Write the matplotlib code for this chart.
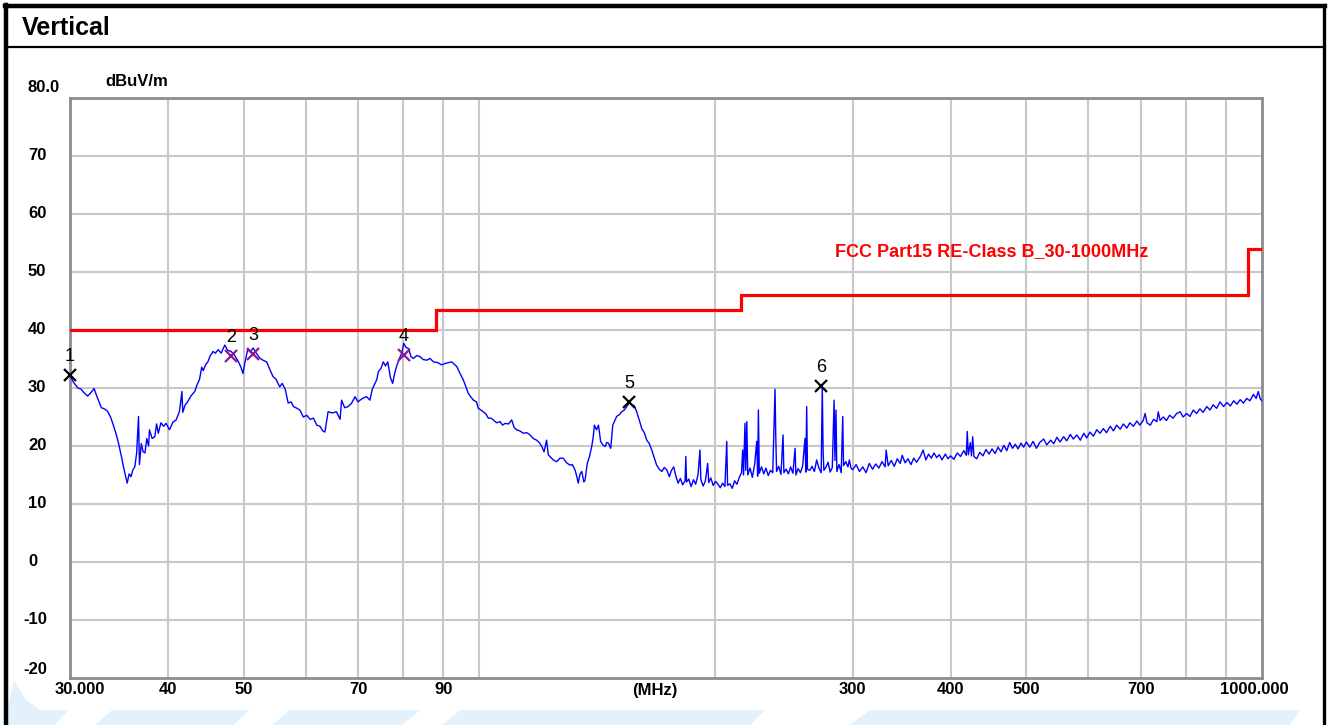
import matplotlib
matplotlib.use("Agg")
import matplotlib.pyplot as plt
from matplotlib.lines import Line2D
from matplotlib.patches import Polygon
from matplotlib.transforms import blended_transform_factory
from matplotlib.ticker import NullLocator
from matplotlib import font_manager

# ---------------- data ----------------
freq_mhz = [
    30.0, 30.3, 30.7, 31.0, 31.2, 31.6, 31.9, 32.2, 32.5, 32.9, 33.2, 33.5, 33.8, 34.1, 34.4,
    34.6, 34.9, 35.1, 35.3, 35.5, 35.7, 35.9, 36.1, 36.3, 36.5, 36.7, 36.8, 37.0, 37.2, 37.4,
    37.6, 37.8, 37.9, 38.2, 38.5, 38.7, 38.9, 39.2, 39.5, 39.8, 40.2, 40.6, 41.0, 41.4, 41.7,
    41.8, 42.1, 42.4, 42.8, 43.3, 43.6, 43.9, 44.2, 44.4, 44.7, 45.0, 45.3, 45.7, 46.0, 46.4,
    46.8, 47.3, 47.7, 48.2, 48.7, 49.2, 49.6, 49.9, 50.2, 50.6, 51.0, 51.4, 51.9, 52.4, 52.9,
    53.5, 54.0, 54.5, 55.0, 55.6, 56.0, 56.5, 57.0, 57.5, 57.9, 58.5, 59.0, 59.6, 60.2, 60.8,
    61.4, 62.0, 62.6, 63.1, 63.5, 64.1, 64.9, 65.7, 66.4, 66.7, 67.3, 68.0, 68.7, 69.4, 70.0,
    70.4, 71.1, 71.8, 72.5, 73.0, 73.6, 74.0, 74.3, 74.9, 75.4, 75.9, 76.4, 77.0, 77.5, 78.0,
    78.4, 79.0, 79.6, 80.1, 80.6, 81.2, 81.8, 82.4, 83.2, 84.0, 84.8, 85.7, 86.5, 87.4, 88.4,
    89.5, 90.8, 92.2, 93.6, 94.5, 95.4, 96.1, 96.8, 97.5, 98.3, 99.2, 99.7, 100.5, 101.2, 102.0,
    102.7, 103.5, 104.2, 105.2, 106.3, 107.1, 107.9, 109.0, 110.0, 110.8, 111.6, 112.7, 113.8, 115.0, 116.1,
    117.2, 118.4, 119.3, 120.2, 121.0, 121.9, 122.5, 123.1, 124.3, 125.6, 126.8, 128.0, 129.3, 130.6, 131.5,
    132.5, 133.2, 133.8, 134.5, 135.2, 136.0, 136.5, 137.4, 138.3, 139.2, 139.8, 140.3, 141.2, 142.0, 142.9,
    143.8, 144.8, 145.5, 146.2, 147.2, 148.1, 149.0, 149.8, 151.0, 152.0, 153.2, 154.3, 155.4, 156.6, 157.8,
    158.9, 160.0, 161.3, 162.5, 163.7, 164.9, 166.1, 167.3, 168.5, 169.8, 171.1, 172.3, 173.6, 174.9,
    176.0, 177.2, 178.3, 179.5, 180.7, 181.9, 183.2, 183.6, 184.0, 185.2, 186.5, 187.8, 189.0, 190.3, 191.4,
    191.9, 193.2, 194.5, 195.8, 196.4, 197.6, 199.0, 200.4, 201.8, 203.2, 204.6, 206.0, 207.1, 207.6, 209.0,
    210.5, 211.9, 213.4, 214.9, 216.3, 217.0, 217.6, 218.5, 219.0, 219.7, 220.3, 221.8, 223.3, 224.8, 226.2,
    226.8, 227.3, 227.9, 229.4, 230.9, 232.4, 234.0, 235.5, 237.1, 238.7, 239.2, 239.8, 241.3, 242.9, 244.4,
    245.0, 246.6, 248.3, 249.9, 251.6, 253.2, 253.8, 255.5, 257.2, 258.9, 260.7, 261.3, 262.0, 262.6, 264.4,
    266.2, 268.0, 269.8, 271.6, 273.4, 274.3, 275.0, 275.6, 277.4, 279.0, 280.7, 282.5, 284.0, 284.7, 285.6,
    286.3, 288.2, 290.0, 291.3, 292.0, 293.9, 295.8, 297.0, 298.5, 300.0,
    303, 306, 309, 312, 315, 318, 321, 324, 327, 330, 331, 333, 336, 339, 342,
    345, 347, 350, 353, 356, 359, 362, 366, 369, 372, 375, 378, 381, 384, 387,
    390, 394, 397, 400, 404, 408, 412, 416, 419, 420.2, 421.5, 424, 425.5, 427, 428.5,
    432, 436, 440, 444, 448, 452, 456, 460, 464, 468, 472, 476, 480, 484, 488,
    492, 496, 500, 505, 510, 515, 520, 526, 531, 537, 542, 547, 552, 558, 563,
    569, 574, 580, 586, 592, 597, 603, 609, 615, 621, 627, 633, 640, 646, 652,
    659, 665, 672, 678, 685, 692, 698, 705, 709, 713, 720, 727, 734, 737, 741,
    748, 755, 762, 770, 778, 786, 793, 801, 809, 817, 825, 833, 841, 850, 858,
    866, 875, 884, 893, 902, 911, 920, 929, 938, 947, 956, 965, 975, 983, 989,
    995, 1000,
]
level_dbuv = [
    32.2, 31.0, 30.0, 29.8, 29.3, 28.6, 29.2, 29.9, 28.4, 26.6, 26.4, 26.0, 25.0, 23.5, 21.8,
    20.5, 18.2, 16.5, 15.0, 13.6, 15.2, 14.7, 15.9, 16.4, 18.8, 25.1, 16.8, 20.4, 19.0, 18.8,
    21.3, 20.0, 22.8, 21.3, 21.6, 23.8, 22.2, 24.0, 23.4, 23.9, 22.8, 24.1, 24.5, 26.0, 29.4,
    25.8, 27.1, 27.6, 28.6, 29.4, 30.6, 31.4, 33.6, 33.0, 34.0, 34.5, 35.5, 36.3, 36.0, 36.6,
    36.0, 37.4, 36.5, 36.3, 35.6, 34.6, 33.6, 32.5, 34.5, 36.6, 36.2, 36.9, 36.0, 35.2, 34.8,
    34.5, 33.2, 32.0, 31.5, 30.2, 30.8, 29.8, 27.4, 27.6, 26.8, 26.5, 26.2, 25.0, 25.3, 24.6,
    24.8, 23.6, 23.4, 22.6, 22.4, 25.9, 25.7, 25.9, 24.6, 27.9, 26.6, 26.8, 27.4, 28.5, 27.6,
    27.9, 28.3, 28.5, 27.9, 29.8, 30.8, 31.5, 32.8, 33.4, 34.5, 33.8, 34.5, 31.8, 30.8, 32.6,
    33.7, 35.0, 36.0, 37.7, 37.0, 36.8, 35.4, 35.1, 35.6, 35.4, 34.9, 34.8, 35.1, 34.5, 34.4,
    34.0, 34.3, 34.5, 33.7, 32.5, 31.4, 30.3, 29.1, 28.5, 27.9, 27.6, 26.5, 26.2, 25.9, 25.5,
    24.8, 24.8, 24.5, 24.0, 24.2, 23.6, 23.9, 23.8, 24.5, 23.2, 22.8, 22.6, 22.2, 22.3, 21.9,
    21.3, 21.0, 20.6, 19.9, 19.0, 21.0, 18.5, 18.2, 17.6, 17.3, 17.9, 17.9, 17.1, 16.7, 16.8,
    15.9, 14.8, 13.6, 15.2, 15.6, 13.8, 14.1, 17.0, 18.2, 19.9, 21.5, 23.6, 22.8, 23.6, 20.8,
    20.2, 19.9, 20.6, 20.5, 19.6, 23.6, 24.4, 25.1, 25.4, 25.9, 26.2, 26.8, 27.4, 27.1, 26.9,
    25.9, 24.6, 23.0, 22.3, 21.0, 20.4, 19.3, 18.0, 16.7, 16.0, 15.6, 16.3, 15.9, 14.7,
    15.8, 16.4, 14.8, 13.6, 14.4, 13.3, 14.0, 18.2, 13.8, 14.3, 13.0, 14.2, 13.4, 15.0, 19.3,
    14.2, 13.1, 14.0, 17.0, 13.7, 14.5, 13.2, 13.9, 13.4, 12.8, 13.6, 13.0, 20.8, 13.2, 13.5,
    12.7, 14.0, 13.4, 14.6, 15.4, 19.3, 15.0, 23.9, 15.8, 24.2, 15.0, 16.2, 14.6, 16.8, 20.8,
    14.8, 26.2, 15.3, 16.4, 15.2, 16.2, 14.9, 15.8, 15.4, 29.8, 21.9, 15.6, 16.5, 15.1, 21.9,
    15.4, 16.0, 15.2, 16.4, 15.3, 19.6, 15.0, 16.1, 15.4, 16.6, 21.3, 15.5, 26.8, 16.0, 15.8,
    16.5, 15.6, 17.6, 16.2, 15.4, 30.2, 18.8, 15.8, 16.4, 17.2, 15.5, 16.3, 27.9, 17.5, 26.2,
    15.6, 16.8, 15.4, 25.1, 16.6, 17.3, 16.4, 17.6, 16.2, 15.9,
    16.8, 15.6, 16.4, 15.4, 17.0, 16.0, 16.9, 16.2, 17.3, 16.4, 19.3, 16.6, 17.5, 16.5, 17.8,
    17.0, 18.4, 17.1, 17.8, 16.8, 17.9, 17.2, 18.2, 19.3, 17.6, 18.6, 17.9, 18.8, 18.0, 18.5,
    17.6, 18.6, 17.8, 18.3, 17.7, 18.8, 18.2, 19.2, 18.4, 22.5, 18.5, 20.6, 18.3, 21.6, 18.2,
    17.8, 18.9, 18.3, 19.4, 18.6, 19.5, 18.7, 19.8, 19.0, 20.1, 19.2, 20.6, 19.6, 20.3, 19.5,
    20.5, 19.8, 20.7, 19.8, 20.8, 19.6, 20.6, 21.2, 20.2, 21.0, 20.4, 21.5, 20.7, 21.6, 20.9,
    22.0, 21.2, 21.9, 21.0, 22.2, 21.4, 22.4, 21.7, 22.8, 22.2, 23.0, 22.3, 23.4, 22.6, 23.6,
    22.9, 23.8, 23.1, 24.0, 23.4, 24.3, 23.6, 24.4, 25.6, 24.0, 23.6, 24.6, 24.2, 25.9, 24.4,
    25.0, 24.4, 25.3, 24.8, 25.6, 25.9, 25.0, 25.6, 25.1, 26.2, 25.6, 26.4, 25.8, 26.8, 26.2,
    27.1, 26.5, 27.6, 26.8, 27.5, 26.9, 27.8, 27.2, 28.0, 27.4, 28.2, 27.8, 28.9, 28.2, 29.4,
    28.1, 27.8,
]

limit_freq = [30, 88, 88, 216, 216, 960, 960, 1000]
limit_level = [40, 40, 43.5, 43.5, 46, 46, 54, 54]
limit_name = "FCC Part15 RE-Class B_30-1000MHz"

marker_ids = ["1", "2", "3", "4", "5", "6"]
marker_freq = [30.0, 48.2, 51.4, 80.1, 155.4, 273.4]
marker_level = [32.3, 35.6, 35.9, 35.7, 27.6, 30.3]
marker_colors = ["black", "#8B1A8B", "#8B1A8B", "#8B1A8B", "black", "black"]

y_ticks = [80, 70, 60, 50, 40, 30, 20, 10, 0, -10, -20]
y_tick_labels = ["80.0", "70", "60", "50", "40", "30", "20", "10", "0", "-10", "-20"]
x_grid = [40, 50, 60, 70, 80, 90, 100, 200, 300, 400, 500, 600, 700, 800, 900]
x_ticks = [30, 40, 50, 70, 90, 300, 400, 500, 700, 1000]
x_tick_labels = ["30.000", "40", "50", "70", "90", "300", "400", "500", "700", "1000.000"]

# ---------------- figure ----------------
W, H = 1330, 725
names = {f.name for f in font_manager.fontManager.ttflist}
NARROW = "Liberation Sans Narrow" if "Liberation Sans Narrow" in names else "Liberation Sans"
FONT = "Liberation Sans"
LAB_SIZE = 13 if NARROW != FONT else 12

fig = plt.figure(figsize=(W / 100, H / 100), dpi=100)
fig.patch.set_facecolor("white")

def fx(px):
    return px / W

def fy(py):
    return 1 - py / H

# light blue watermark stripes at the bottom (decoration)
wm = "#e2f1fb"
wm_shapes = [
    [(8, 725), (8, 705), (14, 680), (26, 700), (40, 710), (68, 710), (55, 725)],
    [(95, 725), (112, 710), (250, 710), (233, 725)],
    [(272, 725), (290, 710), (420, 710), (402, 725)],
    [(442, 725), (460, 710), (765, 710), (750, 725)],
    [(850, 725), (870, 710), (1300, 710), (1290, 725)],
]
for shp in wm_shapes:
    fig.add_artist(Polygon([(fx(a), fy(b)) for a, b in shp], closed=True,
                           transform=fig.transFigure, facecolor=wm, edgecolor="none", zorder=0))

# outer frame and title band
frame_kw = dict(transform=fig.transFigure, color="black", zorder=5)
fig.add_artist(Line2D([fx(6), fx(6)], [fy(5), fy(725)], lw=3.2, **frame_kw))
fig.add_artist(Line2D([fx(5), fx(1325)], [fy(6), fy(6)], lw=3.2, **frame_kw))
fig.add_artist(Line2D([fx(1324), fx(1324)], [fy(5), fy(725)], lw=2.4, **frame_kw))
fig.add_artist(Line2D([fx(6), fx(1324)], [fy(47), fy(47)], lw=1.6, **frame_kw))
fig.text(fx(22), fy(28), "Vertical", fontsize=18, fontweight="bold", family=FONT,
         ha="left", va="center")

ax = fig.add_axes([fx(70), fy(678), (1262 - 70) / W, (678 - 98) / H])
ax.set_xscale("log")
ax.set_xlim(30, 1000)
ax.set_ylim(-20, 80)
ax.xaxis.set_minor_locator(NullLocator())
ax.set_xticks([])
ax.set_yticks([])
ax.set_facecolor("white")
for s in ax.spines.values():
    s.set_color("#8c8c8c")
    s.set_linewidth(2.0)

for g in x_grid:
    ax.axvline(g, color="#c8c8c8", lw=1.5, zorder=1)
for v in y_ticks[1:-1]:
    ax.axhline(v, color="#c8c8c8", lw=1.5, zorder=1)

# limit line
ax.plot(limit_freq, limit_level, color="#ff0000", lw=2.3, zorder=3, solid_joinstyle="miter")
ax.text(0.642, 0.735, limit_name, transform=ax.transAxes, color="#ff0000", fontsize=13,
        fontweight="bold", family=FONT, ha="left", va="center")

# trace
ax.plot(freq_mhz, level_dbuv, color="#0000ff", lw=1.0, zorder=4)

# markers
for mid, mf, ml, mc in zip(marker_ids, marker_freq, marker_level, marker_colors):
    ax.plot([mf], [ml], marker="x", ms=9, mew=1.6, color=mc, zorder=6, clip_on=False)
    ax.annotate(mid, (mf, ml), xytext=(0, 10), textcoords="offset pixels", ha="center",
                va="bottom", fontsize=13, family=FONT, color="black", zorder=7,
                annotation_clip=False)

# y tick labels
ytr = blended_transform_factory(ax.transAxes, ax.transData)
for v, lab in zip(y_ticks, y_tick_labels):
    dy = 0
    if v == 80:
        dy = 10
    elif v == -20:
        dy = 8
    dx = -42 if v >= 0 else -47
    ax.annotate(lab, (0, v), xycoords=ytr, xytext=(dx, dy), textcoords="offset pixels",
                ha="left", va="center", fontsize=LAB_SIZE, fontweight="bold", family=NARROW,
                annotation_clip=False)
ax.annotate("dBuV/m", (0, 80), xycoords=ytr, xytext=(35, 16), textcoords="offset pixels",
            ha="left", va="center", fontsize=LAB_SIZE, fontweight="bold", family=NARROW,
            annotation_clip=False)

# x tick labels
xtr = blended_transform_factory(ax.transData, ax.transAxes)
for t, lab in zip(x_ticks, x_tick_labels):
    dx = 0
    if t == 30:
        dx = 10
    elif t == 1000:
        dx = -8
    ax.annotate(lab, (t, 0), xycoords=xtr, xytext=(dx, -12), textcoords="offset pixels",
                ha="center", va="center", fontsize=LAB_SIZE, fontweight="bold", family=NARROW,
                annotation_clip=False)
ax.annotate("(MHz)", (0.4908, 0), xycoords="axes fraction", xytext=(0, -12),
            textcoords="offset pixels", ha="center", va="center", fontsize=LAB_SIZE,
            fontweight="bold", family=NARROW, annotation_clip=False)

fig.savefig("out.png", dpi=100)
